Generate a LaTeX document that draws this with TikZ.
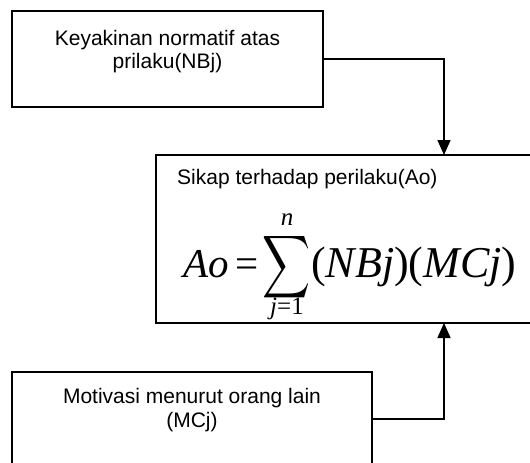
\documentclass[tikz,border=0pt]{standalone}
\usepackage{fontspec}
\usepackage{graphicx}
\setmainfont{Liberation Sans}
\newfontfamily\tms{Liberation Serif}
\usetikzlibrary{arrows.meta}
\tikzset{
  box/.style={draw, line width=1.6pt, rectangle, inner sep=0pt},
  txt/.style={font=\fontsize{21}{24}\selectfont, align=center, inner sep=0pt},
  frm/.style={font=\fontsize{41}{44}\selectfont\tms, inner sep=0pt},
  lim/.style={font=\fontsize{25}{27}\selectfont\tms, inner sep=0pt},
  conn/.style={line width=1.5pt, -{Triangle[length=15pt,width=13pt]}}
}
\begin{document}
\begin{tikzpicture}[x=1pt,y=-1pt]
\useasboundingbox (0,0) rectangle (530,463);
% boxes
\node[box, minimum width=311pt, minimum height=96pt] (nb) at (167.5,59) {};
\node[box, minimum width=378pt, minimum height=168pt] (ao) at (345,239) {};
\node[box, minimum width=360pt, minimum height=94pt] (mc) at (192,419) {};
% texts
\node[txt, anchor=base] (nbt) at (167.5,45) {Keyakinan normatif atas};
\node[txt, anchor=base] (nbt2) at (167.5,68) {prilaku(NBj)};
\node[txt, anchor=base west] (aot) at (177,184) {Sikap terhadap perilaku(Ao)};
\node[txt, anchor=base] (mct) at (192,403) {Motivasi menurut orang lain};
\node[txt, anchor=base] (mct2) at (192,427) {(MCj)};
% formula
\node[frm, anchor=base west] (fao) at (183,277) {\itshape Ao};
\node[frm, anchor=base] (feq) at (247,277) {=};
\node[inner sep=0pt] (fsig) at (287,267) {\resizebox{48pt}{46pt}{$\displaystyle\sum$}};
\node[lim, anchor=base] (fn) at (287,225) {\itshape n};
\node[lim, anchor=base] (fj) at (287,314) {\itshape j\upshape=1};
\node[frm, font=\fontsize{44}{46}\selectfont\tms, anchor=base west] (frest) at (311,277) {(\itshape NBj\upshape)(\itshape MCj\upshape)};
% connectors
\coordinate (ain) at (444,155);
\coordinate (aout) at (444,323);
\draw[conn] (nb.east) -| (ain);
\draw[conn] (mc.east) -| (aout);
\end{tikzpicture}
\end{document}
